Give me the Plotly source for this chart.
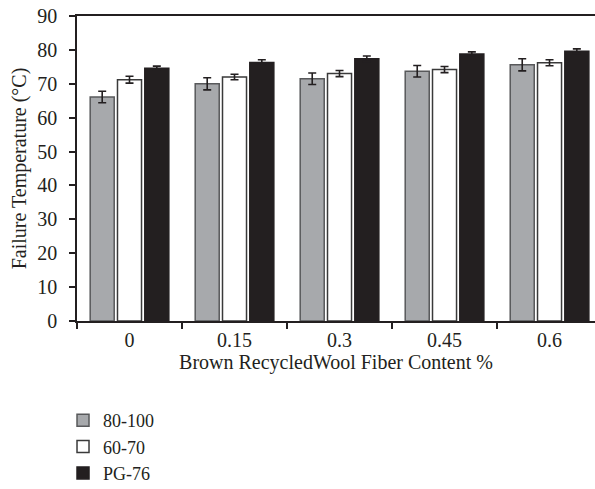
import plotly.graph_objects as go

categories = ["0", "0.15", "0.3", "0.45", "0.6"]
series_names = ["80-100", "60-70", "PG-76"]
v_80_100 = [66.1, 70.0, 71.5, 73.7, 75.6]
e_80_100 = [1.7, 1.8, 1.7, 1.7, 1.8]
v_60_70 = [71.2, 72.0, 73.0, 74.2, 76.2]
e_60_70 = [1.0, 0.8, 0.9, 0.9, 0.9]
v_pg76 = [74.6, 76.3, 77.4, 78.8, 79.6]
e_pg76 = [0.6, 0.8, 0.8, 0.6, 0.7]

fills = ["#a7a9ac", "#ffffff", "#231f20"]
edges = ["#58595b", "#3a3a3a", "#231f20"]
vals = [v_80_100, v_60_70, v_pg76]
errs = [e_80_100, e_60_70, e_pg76]

FONT = "Liberation Serif"
fig = go.Figure()
for i in range(3):
    fig.add_trace(go.Bar(
        x=categories, y=vals[i], name=series_names[i],
        marker=dict(color=fills[i], line=dict(color=edges[i], width=1.5)),
        error_y=dict(type="data", array=errs[i], visible=True,
                     color="#231f20", thickness=1.6, width=4),
    ))

fig.update_layout(
    width=595, height=489,
    margin=dict(l=77, r=0, t=16, b=168, autoexpand=False),
    paper_bgcolor="white", plot_bgcolor="white",
    barmode="group", bargap=0.22, bargroupgap=0.12,
    font=dict(family=FONT, size=19, color="#231f20"),
    showlegend=True,
    legend=dict(x=-0.027, xanchor="left", y=0.178, yref="container", yanchor="top",
                orientation="v", traceorder="normal",
                font=dict(family=FONT, size=18, color="#231f20"),
                itemwidth=30),
)
fig.update_xaxes(
    type="category", range=[-0.5, 4.433],
    showline=True, linecolor="#231f20", linewidth=1.5, mirror=True,
    ticks="outside", ticklen=6, tickwidth=1.5, tickcolor="#231f20",
    tickson="boundaries", showgrid=False,
    tickfont=dict(family=FONT, size=20),
    title=dict(text="Brown RecycledWool Fiber Content %", font=dict(family=FONT, size=20), standoff=4),
)
fig.update_yaxes(
    range=[0, 90], dtick=10,
    showline=True, linecolor="#231f20", linewidth=1.5,
    ticks="outside", ticklen=6, tickwidth=1.5, tickcolor="#231f20",
    ticklabelstandoff=8,
    showgrid=False, zeroline=False,
    tickfont=dict(family=FONT, size=20),
    title=dict(text="Failure Temperature (°C)", font=dict(family=FONT, size=20), standoff=5),
)
fig.write_html("out.html", config={"displayModeBar": False},
               post_script="document.body.style.margin='0';")
